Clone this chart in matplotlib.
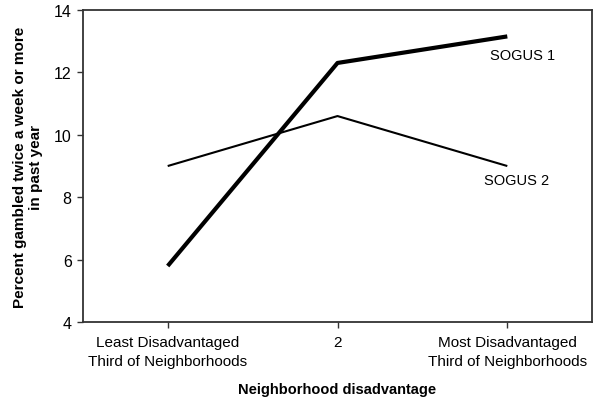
import matplotlib.pyplot as plt

plt.rcParams['font.family'] = ['Liberation Sans', 'DejaVu Sans']

categories = ['Least Disadvantaged\nThird of Neighborhoods', '2',
              'Most Disadvantaged\nThird of Neighborhoods']
sogus1 = [5.8, 12.3, 13.15]
sogus2 = [9.0, 10.6, 9.0]

fig = plt.figure(figsize=(6, 4.02), dpi=100)
ax = fig.add_axes([0.138, 0.196, 0.849, 0.777])

x = range(len(categories))
ax.plot(x, sogus1, color='black', linewidth=3.0, solid_capstyle='butt')
ax.plot(x, sogus2, color='black', linewidth=1.5, solid_capstyle='butt')

ax.text(2 - 0.1, sogus1[2] - 0.6, 'SOGUS 1', fontsize=10.5, ha='left', va='center')
ax.text(2 - 0.14, sogus2[2] - 0.45, 'SOGUS 2', fontsize=10.5, ha='left', va='center')

ax.set_xlim(-0.5, 2.5)
ax.set_ylim(4, 14)
ax.set_yticks([4, 6, 8, 10, 12, 14])
ax.set_xticks(list(x))
ax.set_xticklabels(categories, fontsize=11, linespacing=1.45)
ax.tick_params(axis='y', labelsize=11.5, length=4, width=1, color='#333333', pad=4)
ax.tick_params(axis='x', length=4, width=1, color='#333333', pad=5)

for s in ax.spines.values():
    s.set_color('#333333')
    s.set_linewidth(1.3)

ax.set_xlabel('Neighborhood disadvantage', fontsize=10.5, fontweight='bold', labelpad=10)
ax.set_ylabel('Percent gambled twice a week or more\nin past year', fontsize=11,
              fontweight='bold', labelpad=8, linespacing=1.2)

fig.savefig('out.png', dpi=100)
